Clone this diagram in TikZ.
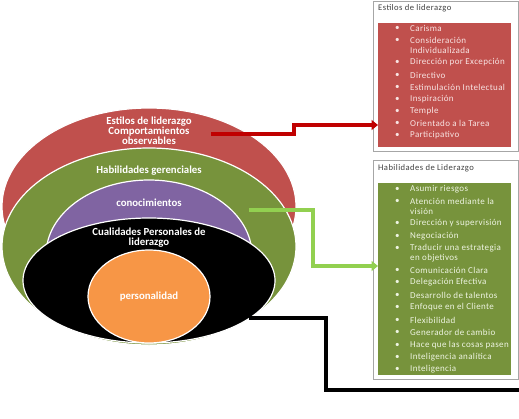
\documentclass[tikz,border=0pt]{standalone}
\usepackage{fontspec}
\setmainfont{Carlito}
\newfontfamily\itemfont[LetterSpace=4]{Carlito}
\newfontfamily\titlefont[LetterSpace=5]{Carlito}
\usetikzlibrary{shapes.geometric,arrows.meta}
\definecolor{ored}{HTML}{C0504D}
\definecolor{ogreen}{HTML}{77933C}
\definecolor{opurple}{HTML}{8064A2}
\definecolor{oorange}{HTML}{F79646}
\definecolor{arrred}{HTML}{C00000}
\definecolor{arrgreen}{HTML}{92D050}
\definecolor{boxgray}{HTML}{A6A6A6}
\definecolor{titlegray}{HTML}{404040}
\definecolor{redtext}{HTML}{F8E4E3}
\definecolor{greentext}{HTML}{EEF4E2}
\begin{document}
\begin{tikzpicture}[x=1pt,y=-1pt,
  ring/.style={ellipse, draw=white, line width=1.2pt, inner sep=0pt},
  ringlabel/.style={text=white, font=\bfseries\fontsize{10.8}{9.8}\selectfont, align=center, inner sep=0pt},
  outerbox/.style={draw=boxgray, line width=0.8pt, anchor=north west, inner sep=0pt},
  innerbox/.style={draw=none, anchor=north west, inner sep=0pt},
  boxtitle/.style={text=titlegray, font=\titlefont\fontsize{8.6}{9}\selectfont, anchor=west, inner sep=0pt},
  itemtext/.style={font=\itemfont\fontsize{9}{9}\selectfont, anchor=west, inner sep=0pt},
  conn/.style={line width=3.2pt},
  tip/.style={-{Triangle[length=6.5pt,width=10pt]}}
]
\useasboundingbox (0,0) rectangle (519,418);
% rings
\node[ring, fill=ored, minimum width=294pt, minimum height=197pt] (red) at (149,206.5) {};
\node[ring, fill=ogreen, minimum width=294pt, minimum height=197pt] (green) at (149,246.5) {};
\node[ring, fill=opurple, minimum width=206pt, minimum height=150pt] (purple) at (149,255) {};
\node[ring, fill=black, minimum width=252pt, minimum height=125pt] (blackring) at (149,280.5) {};
\node[ring, fill=oorange, minimum width=122pt, minimum height=93pt] (orange) at (149,296.5) {};
% ring labels
\node[ringlabel] (tred) at (149,130.5) {Estilos de liderazgo\\Comportamientos\\observables};
\node[ringlabel] (tgreen) at (149,171) {Habilidades gerenciales};
\node[ringlabel] (tpurple) at (149,203) {conocimientos};
\node[ringlabel] (tblack) at (149,238) {Cualidades Personales de\\liderazgo};
\node[ringlabel] (torange) at (149,297) {personalidad};
% box 1
\node[outerbox, minimum width=145pt, minimum height=150.5pt] (box1) at (373,0.5) {};
\node[innerbox, fill=ored, minimum width=133pt, minimum height=124pt] (in1) at (378,23) {};
\node[boxtitle] (title1) at (378,8) {Estilos de liderazgo};
\foreach \y/\t/\b [count=\i] in {28/Carisma/1, 40/Consideración/1, 50/Individualizada/0,
  62/Dirección por Excepción/1, 75/Directivo/1, 87/Estimulación Intelectual/1,
  99/Inspiración/1, 111/Temple/1, 123/Orientado a la Tarea/1, 135/Participativo/1}{
  \node[itemtext, text=redtext] (ra\i) at (410,\y) {\t};
  \ifnum\b=1 \node[itemtext, text=redtext] (rb\i) at (395,\y) {•};\fi
}
% box 2
\node[outerbox, minimum width=145pt, minimum height=219pt] (box2) at (373,160) {};
\node[innerbox, fill=ogreen, minimum width=133pt, minimum height=192pt] (in2) at (378,183) {};
\node[boxtitle] (title2) at (378,168) {Habilidades de Liderazgo};
\foreach \y/\t/\b [count=\i] in {189/Asumir riesgos/1, 201/Atención mediante la/1, 211/visión/0,
  223/Dirección y supervisión/1, 236/Negociación/1, 248/Traducir una estrategia/1,
  258/en objetivos/0, 270/Comunicación Clara/1, 282/Delegación Efectiva/1,
  295/Desarrollo de talentos/1, 307/Enfoque en el Cliente/1, 320/Flexibilidad/1,
  332/Generador de cambio/1, 345/Hace que las cosas pasen/1, 357/Inteligencia analítica/1,
  369/Inteligencia/1}{
  \node[itemtext, text=greentext] (ga\i) at (410,\y) {\t};
  \ifnum\b=1 \node[itemtext, text=greentext] (gb\i) at (395,\y) {•};\fi
}
% connectors
\coordinate (rs) at (211,134);
\coordinate (re) at (378,125);
\coordinate (gs) at (249,210);
\coordinate (ge) at (378,266);
\coordinate (ks) at (249,318);
\coordinate (ke) at (519,390);
\draw[conn, arrred, tip] (rs) -- ++(83,0) |- (re);
\draw[conn, arrgreen, tip] (gs) -- ++(64,0) |- (ge);
\draw[conn, black] (ks) -- ++(77,0) |- (ke);
\end{tikzpicture}
\end{document}
